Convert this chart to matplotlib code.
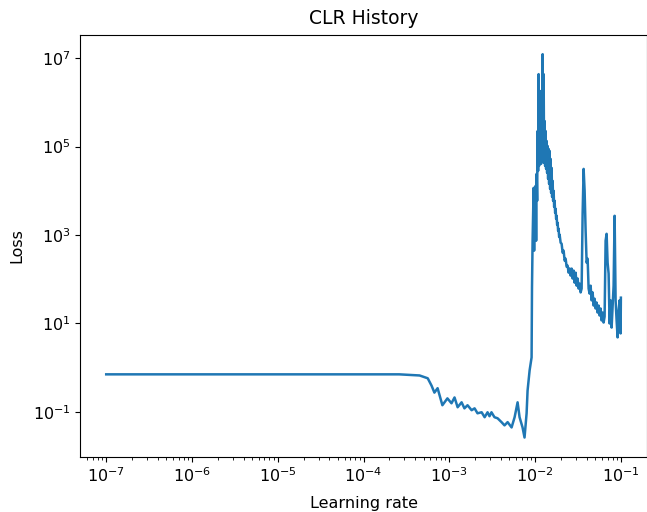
import matplotlib
matplotlib.use("Agg")
import matplotlib.pyplot as plt

plt.rcParams["font.size"] = 11.5

# learning rate / loss
lr = [1e-7, 1e-6, 1e-5, 1e-4, 2.6e-4, 4.5e-4, 5.6e-4, 6.2e-4, 6.7e-4, 7.3e-4,
      8.3e-4, 9.5e-4, 1.06e-3, 1.15e-3, 1.25e-3, 1.39e-3, 1.50e-3, 1.63e-3, 1.82e-3, 1.97e-3,
      2.13e-3, 2.38e-3, 2.58e-3, 2.79e-3, 2.94e-3, 3.10e-3, 3.36e-3, 3.65e-3, 4.06e-3, 4.40e-3,
      4.78e-3, 5.32e-3, 5.77e-3, 6.08e-3, 6.25e-3, 6.59e-3, 7.14e-3, 7.53e-3, 7.96e-3, 8.17e-3,
      8.63e-3, 9.10e-3, 9.2e-3, 9.35e-3,
      9.61e-3, 9.74e-3, 9.87e-3, 1.000e-2, 1.014e-2, 1.028e-2, 1.042e-2, 1.056e-2, 1.070e-2, 1.084e-2,
      1.099e-2, 1.114e-2, 1.129e-2, 1.144e-2, 1.160e-2, 1.175e-2, 1.191e-2, 1.207e-2, 1.224e-2, 1.240e-2,
      1.257e-2, 1.274e-2, 1.291e-2, 1.309e-2, 1.326e-2, 1.344e-2, 1.362e-2, 1.381e-2, 1.400e-2, 1.418e-2,
      1.438e-2, 1.457e-2, 1.477e-2, 1.497e-2, 1.517e-2, 1.538e-2, 1.558e-2, 1.579e-2, 1.601e-2, 1.622e-2,
      1.644e-2, 1.667e-2, 1.689e-2, 1.712e-2, 1.735e-2, 1.758e-2, 1.782e-2, 1.806e-2, 1.831e-2, 1.855e-2,
      1.880e-2, 1.906e-2, 1.932e-2, 1.984e-2, 2.038e-2, 2.094e-2, 2.151e-2, 2.209e-2, 2.269e-2, 2.331e-2,
      2.394e-2, 2.459e-2, 2.526e-2, 2.595e-2, 2.666e-2, 2.738e-2, 2.813e-2, 2.889e-2, 2.968e-2, 3.049e-2,
      3.132e-2, 3.217e-2, 3.304e-2, 3.394e-2, 3.486e-2, 3.581e-2, 3.678e-2, 3.778e-2, 3.881e-2, 3.987e-2,
      4.095e-2, 4.206e-2, 4.321e-2, 4.438e-2, 4.559e-2, 4.683e-2, 4.810e-2, 4.941e-2, 5.075e-2, 5.213e-2,
      5.355e-2, 5.501e-2, 5.650e-2, 5.804e-2, 5.962e-2, 6.124e-2, 6.290e-2, 6.461e-2, 6.637e-2, 6.818e-2,
      7.003e-2, 7.194e-2, 7.389e-2, 7.590e-2, 7.797e-2, 8.009e-2, 8.227e-2, 8.450e-2, 8.680e-2, 8.916e-2,
      9.159e-2, 9.408e-2, 9.664e-2, 9.927e-2, 1.0e-1]
loss = [0.70, 0.70, 0.70, 0.70, 0.70, 0.66, 0.57, 0.39, 0.27, 0.34,
        0.14, 0.20, 0.155, 0.21, 0.126, 0.163, 0.119, 0.14, 0.108, 0.119,
        0.092, 0.097, 0.075, 0.097, 0.079, 0.097, 0.075, 0.071, 0.058, 0.049,
        0.058, 0.044, 0.075, 0.126, 0.163, 0.075, 0.044, 0.026, 0.092, 0.30,
        0.86, 1.69, 64, 740,
        1.16e4, 440, 1.16e4, 740, 1.29e4, 740, 2.41e4, 5.92e3, 2.25e5, 2.81e4,
        4.35e6, 3.65e4, 1.07e6, 4.73e4, 1.80e6, 4.05e4, 3.24e5, 4.73e4, 1.23e7, 4.73e4,
        4.35e6, 4.26e4, 3.78e5, 3.65e4, 2.25e5, 3.12e4, 1.34e5, 2.54e4, 1.03e5, 1.86e4,
        8.83e4, 1.43e4, 7.96e4, 1.10e4, 5.25e4, 8.97e3, 3.29e4, 7.28e3, 1.67e4, 5.92e3,
        9.95e3, 4.33e3, 5.92e3, 3.17e3, 3.90e3, 2.32e3, 2.71e3, 1.70e3, 1.88e3, 1.24e3,
        1.38e3, 910, 1.01e3, 667, 632, 396, 440, 262, 290, 191,
        202, 140, 173, 120, 173, 103, 156, 83, 140, 71,
        103, 61, 79, 50, 61, 3.01e3, 3.12e4, 9.95e3, 1.24e3, 236,
        290, 61, 47, 71, 33, 50, 25.2, 36, 21.6, 29.5,
        17.5, 25.2, 15.0, 21.6, 11.6, 17.5, 10.4, 14.2, 740, 1.06e3,
        236, 133, 9.9, 33, 8.0, 22.7, 71, 2.71e3, 33, 11.6,
        4.8, 19.5, 33, 5.9, 38]

fig = plt.figure(figsize=(6.47, 5.12), dpi=100)
ax = fig.add_axes([0.1244, 0.108, 0.875, 0.8236])
ax.plot(lr, loss, linewidth=1.8)
ax.set_xscale("log")
ax.set_yscale("log")
ax.set_title("CLR History", fontsize=13.5, pad=8)
ax.set_xlabel("Learning rate", labelpad=8)
ax.set_ylabel("Loss", labelpad=6)

fig.savefig("out.png", dpi=100)
